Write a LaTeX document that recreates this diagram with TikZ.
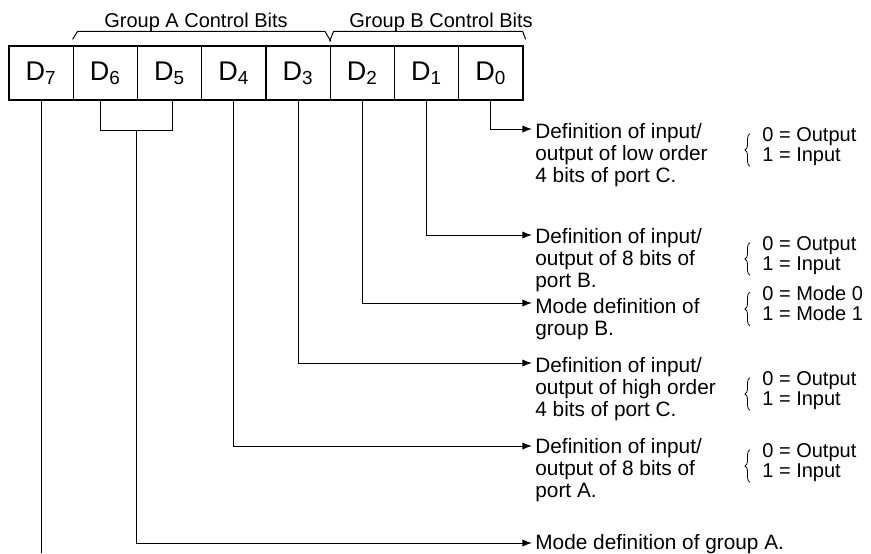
\documentclass[tikz,border=0pt]{standalone}
\usepackage{fontspec}
\setmainfont{Liberation Sans}
\usetikzlibrary{math}
\usetikzlibrary{calc}
\usetikzlibrary{arrows.meta}
\usetikzlibrary{decorations.pathreplacing}

% lines of text whose baseline is the first line
\newcommand{\textlines}[1]{\begin{tabular}[t]{@{}l@{}}#1\end{tabular}}

\tikzset{
  bitbox/.style={draw, line width=0.65pt, minimum width=32.125pt, minimum height=27pt,
    inner sep=0pt, font=\fontsize{13.5}{15}\selectfont},
  wire/.style={line width=0.5pt},
  lead/.style={wire, -{Latex[length=4.8pt,width=3.6pt]}},
  desc/.style={anchor=base west, inner sep=0pt, font=\fontsize{10.4}{11}\selectfont},
  sel/.style={anchor=base west, inner sep=0pt, font=\fontsize{10}{10}\selectfont},
  grp/.style={anchor=base, inner sep=0pt, font=\fontsize{10}{11}\selectfont},
  selbrace/.style={line width=0.4pt, decorate, decoration={brace, amplitude=2.5pt}},
}

\begin{document}
\begin{tikzpicture}[x=0.5pt, y=-0.5pt]

  \tikzmath{
    \boxw  = 64.25; % width of one bit box
    \boxx  = 9;     % left edge of D7
    \regy  = 73;    % middle of the register
    \textx = 535;   % left edge of the descriptions
    \tipx  = 532;   % arrow tips
  }
  \useasboundingbox (0,0) rectangle (871,553);

  % the control word D7 ... D0
  \foreach \i in {7,...,0}
    \node[bitbox] (b\i) at ({\boxx + \boxw*(7-\i) + \boxw/2}, \regy) {D\textsubscript{\i}};

  % group brackets
  \draw[wire] ($(b6.north west)+(0,-6)$) -- ++(5,-8) -- ($(b3.north east)+(-6,-14)$)
    -- ($(b3.north east)+(0,-4)$);
  \draw[wire] ($(b2.north west)+(0,-4)$) -- ++(4,-10) -- ($(b0.north east)+(-1,-14)$) -- ++(3,8);
  \node[grp] (ga) at (196,27) {Group A Control Bits};
  \node[grp] (gb) at (441,27) {Group B Control Bits};

  % arrow tips
  \coordinate (t0) at (\tipx,129);
  \coordinate (t1) at (\tipx,235);
  \coordinate (t2) at (\tipx,303);
  \coordinate (t3) at (\tipx,363);
  \coordinate (t4) at (\tipx,446);
  \coordinate (t5) at (\tipx,543);
  \coordinate (bot) at (0,553);

  % descriptions
  \node[desc] (m0) at (\textx,138) {\textlines{Definition of input/\\output of low order\\4 bits of port C.}};
  \node[desc] (m1) at (\textx,243) {\textlines{Definition of input/\\output of 8 bits of\\port B.}};
  \node[desc] (m2) at (\textx,313) {\textlines{Mode definition of\\group B.}};
  \node[desc] (m3) at (\textx,372) {\textlines{Definition of input/\\output of high order\\4 bits of port C.}};
  \node[desc] (m4) at (\textx,453) {\textlines{Definition of input/\\output of 8 bits of\\port A.}};
  \node[desc] (m5) at (\textx,549) {Mode definition of group A.};

  % values
  \foreach \n/\y/\a/\b in {0/141/Output/Input, 1/250/Output/Input, 2/300/Mode 0/Mode 1,
                           3/385/Output/Input, 4/457/Output/Input}{
    \node[sel] (s\n) at (762,\y) {\textlines{0 = \a\\1 = \b}};
    \draw[selbrace] ($(s\n.south west)+(-12,-1)$) -- ($(s\n.north west)+(-12,7)$);
  }

  % leads
  \draw[lead] (b0.south) |- (t0);
  \draw[lead] (b1.south) |- (t1);
  \draw[lead] (b2.south) |- (t2);
  \draw[lead] (b3.south) |- (t3);
  \draw[lead] (b4.south) |- (t4);
  % D6 and D5 together
  \draw[wire] ($(b6.south)+(-4.5,0)$) -- ++(0,30) -| coordinate[pos=0.25] (j) ($(b5.south)+(3,0)$);
  \draw[lead] (j) |- (t5);
  \draw[wire] (b7.south) -- (b7.south |- bot);

\end{tikzpicture}
\end{document}
